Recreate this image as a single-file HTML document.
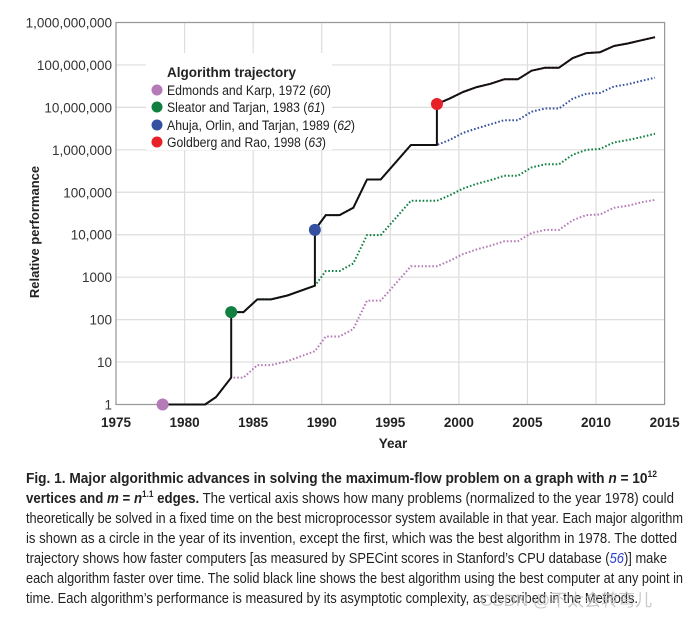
<!DOCTYPE html>
<html><head><meta charset="utf-8"><style>
html,body{margin:0;padding:0;background:#fff;}
svg{display:block;font-family:"Liberation Sans",sans-serif;}
</style></head><body>
<svg id="chart" width="687" height="621" viewBox="0 0 687 621">
<g id="grid"></g>
<g id="axes"></g>
<g id="series"></g>
<g id="legend">
  <rect x="146" y="53" width="186" height="97" fill="#fff"/>
  <text x="167" y="77" font-size="13.5" font-weight="bold" fill="#222">Algorithm trajectory</text>
  <g><circle cx="157" cy="90" r="5.5" fill="#b57ab8"/><text x="167" y="95" font-size="13.5" fill="#222" textLength="164" lengthAdjust="spacingAndGlyphs">Edmonds and Karp, 1972 (<tspan font-style="italic">60</tspan>)</text></g>
  <g><circle cx="157" cy="107" r="5.5" fill="#0f8040"/><text x="167" y="112" font-size="13.5" fill="#222" textLength="158" lengthAdjust="spacingAndGlyphs">Sleator and Tarjan, 1983 (<tspan font-style="italic">61</tspan>)</text></g>
  <g><circle cx="157" cy="125" r="5.5" fill="#3550a0"/><text x="167" y="130" font-size="13.5" fill="#222" textLength="188" lengthAdjust="spacingAndGlyphs">Ahuja, Orlin, and Tarjan, 1989 (<tspan font-style="italic">62</tspan>)</text></g>
  <g><circle cx="157" cy="142" r="5.5" fill="#e82028"/><text x="167" y="147" font-size="13.5" fill="#222" textLength="159" lengthAdjust="spacingAndGlyphs">Goldberg and Rao, 1998 (<tspan font-style="italic">63</tspan>)</text></g>
</g>
<g id="caption" font-size="14.5" fill="#222">
  <text x="26" y="483" font-weight="bold" textLength="631" lengthAdjust="spacingAndGlyphs">Fig. 1. Major algorithmic advances in solving the maximum-flow problem on a graph with <tspan font-style="italic">n</tspan> = 10<tspan font-size="9" dy="-6">12</tspan></text>
  <text x="26" y="503" textLength="648" lengthAdjust="spacingAndGlyphs"><tspan font-weight="bold">vertices and <tspan font-style="italic">m</tspan> = <tspan font-style="italic">n</tspan><tspan font-size="9" dy="-6">1.1</tspan><tspan dy="6"> edges.</tspan></tspan> The vertical axis shows how many problems (normalized to the year 1978) could</text>
  <text x="26" y="523" textLength="657" lengthAdjust="spacingAndGlyphs">theoretically be solved in a fixed time on the best microprocessor system available in that year. Each major algorithm</text>
  <text x="26" y="543" textLength="651" lengthAdjust="spacingAndGlyphs">is shown as a circle in the year of its invention, except the first, which was the best algorithm in 1978. The dotted</text>
  <text x="26" y="563" textLength="641" lengthAdjust="spacingAndGlyphs">trajectory shows how faster computers [as measured by SPECint scores in Stanford’s CPU database (<tspan fill="#2a3fd0" font-style="italic">56</tspan>)] make</text>
  <text x="26" y="583" textLength="657" lengthAdjust="spacingAndGlyphs">each algorithm faster over time. The solid black line shows the best algorithm using the best computer at any point in</text>
  <text x="26" y="603" textLength="612" lengthAdjust="spacingAndGlyphs">time. Each algorithm’s performance is measured by its asymptotic complexity, as described in the Methods.</text>
  <text x="480" y="606" font-size="17" fill="#bbb" fill-opacity="0.8" font-family="'Liberation Sans','Noto Sans CJK SC',sans-serif">CSDN @不太会转弯儿</text>
</g>
</svg>
<script>
const yearTicks = [1975,1980,1985,1990,1995,2000,2005,2010,2015];
const yTickValues = [1,10,100,1000,10000,100000,1000000,10000000,100000000,1000000000];
const yTickLabels = ["1","10","100","1000","10,000","100,000","1,000,000","10,000,000","100,000,000","1,000,000,000"];
const ekYears = [1978.4,1981.5,1982.3,1983.4,1984.3,1985.3,1986.3,1987.5,1989.5,1990.3,1991.3,1992.3,1993.3,1994.3,1996.5,1998.4,1999.3,2000.3,2001.3,2002.3,2003.3,2004.3,2005.3,2006.3,2007.3,2008.3,2009.3,2010.3,2011.3,2012.3,2013.3,2014.3];
const edmondsKarp = [1,1,1.5,4.3,4.3,8.5,8.5,10.5,18,40,40,60,280,280,1800,1800,2400,3500,4500,5500,7000,7000,11000,13000,13000,22000,29000,30000,43000,48000,58000,66000];
const stYears = ekYears.slice(3);
const sleatorTarjan = [150,150,300,300,370,630,1400,1400,2100,9800,9800,63000,63000,84000,122000,158000,193000,245000,245000,385000,455000,455000,770000,1000000,1050000,1500000,1700000,2000000,2400000];
const aotYears = ekYears.slice(8);
const ahujaOrlinTarjan = [13000,29000,29000,43000,200000,200000,1300000,1300000,1700000,2500000,3200000,4000000,5000000,5000000,7900000,9400000,9400000,16000000,21000000,22000000,31000000,35000000,42000000,50000000];
const grYears = ekYears.slice(15);
const goldbergRao = [12000000,16000000,23000000,30000000,36000000,46000000,46000000,73000000,86000000,86000000,145000000,190000000,200000000,280000000,320000000,380000000,450000000];

const NS="http://www.w3.org/2000/svg";
const X0=116,X1=664.6,Y0=404.5,Y1=22.5;
const xs=y=>X0+(y-1975)/(2015-1975)*(X1-X0);
const ys=v=>Y0-Math.log10(v)/9*(Y0-Y1);
function mk(tag,attrs,parent){const e=document.createElementNS(NS,tag);for(const k in attrs)e.setAttribute(k,attrs[k]);parent.appendChild(e);return e;}
const grid=document.getElementById('grid'),axes=document.getElementById('axes'),ser=document.getElementById('series');
yearTicks.forEach((t,i)=>{
  const g=mk('line',{x1:xs(t),x2:xs(t),y1:Y1,y2:Y0,stroke:'#ddd','stroke-width':1.2},grid);
  
  
  const l=mk('text',{x:xs(t),y:427,'text-anchor':'middle','font-size':13.5,'font-weight':'bold',fill:'#222'},axes);
  l.textContent=t;
  
  
});
yTickValues.forEach((v,i)=>{
  const g=mk('line',{x1:X0,x2:X1,y1:ys(v),y2:ys(v),stroke:'#ddd','stroke-width':1.2},grid);
  
  
  const l=mk('text',{x:112,y:ys(v)+5,'text-anchor':'end','font-size':13.5,fill:'#333',textLength:0},axes);
  l.removeAttribute('textLength');
  l.textContent=yTickLabels[i];
  
  
});
const fr=mk('rect',{x:X0,y:Y1,width:X1-X0,height:Y0-Y1,fill:'none',stroke:'#999','stroke-width':1.2},axes);


const yt=mk('text',{x:0,y:0,transform:'translate(39,232) rotate(-90)','text-anchor':'middle','font-size':13,'font-weight':'bold',fill:'#222'},axes);
yt.textContent='Relative performance';


const xt=mk('text',{x:393,y:448,'text-anchor':'middle','font-size':13.5,'font-weight':'bold',fill:'#222'},axes);
xt.textContent='Year';



const pts=(yrs,vals)=>yrs.map((y,i)=>xs(y).toFixed(1)+','+ys(vals[i]).toFixed(1)).join(' ');
const defs=[[ekYears,edmondsKarp,'#b57ab8','edmonds-karp'],[stYears,sleatorTarjan,'#0f8040','sleator-tarjan'],[aotYears,ahujaOrlinTarjan,'#3550a0','ahuja-orlin-tarjan'],[grYears,goldbergRao,'#e82028','goldberg-rao']];
defs.forEach(d=>{
  const p=mk('polyline',{points:pts(d[0],d[1]),fill:'none',stroke:d[2],'stroke-width':2,'stroke-dasharray':'1.6 2'},ser);
  
  
});
// best-algorithm solid black line
let bp=[];
function seg(yrs,vals,from,to){for(let i=from;i<to;i++)bp.push(xs(yrs[i]).toFixed(1)+','+ys(vals[i]).toFixed(1));}
seg(ekYears,edmondsKarp,0,4);
seg(stYears,sleatorTarjan,0,6);
seg(aotYears,ahujaOrlinTarjan,0,8);
seg(grYears,goldbergRao,0,grYears.length);
const bl=mk('polyline',{points:bp.join(' '),fill:'none',stroke:'#111','stroke-width':2,'stroke-linejoin':'round'},ser);


defs.forEach(d=>{
  const c=mk('circle',{cx:xs(d[0][0]),cy:ys(d[1][0]),r:6,fill:d[2]},ser);
  
  
});
</script>
</body></html>
